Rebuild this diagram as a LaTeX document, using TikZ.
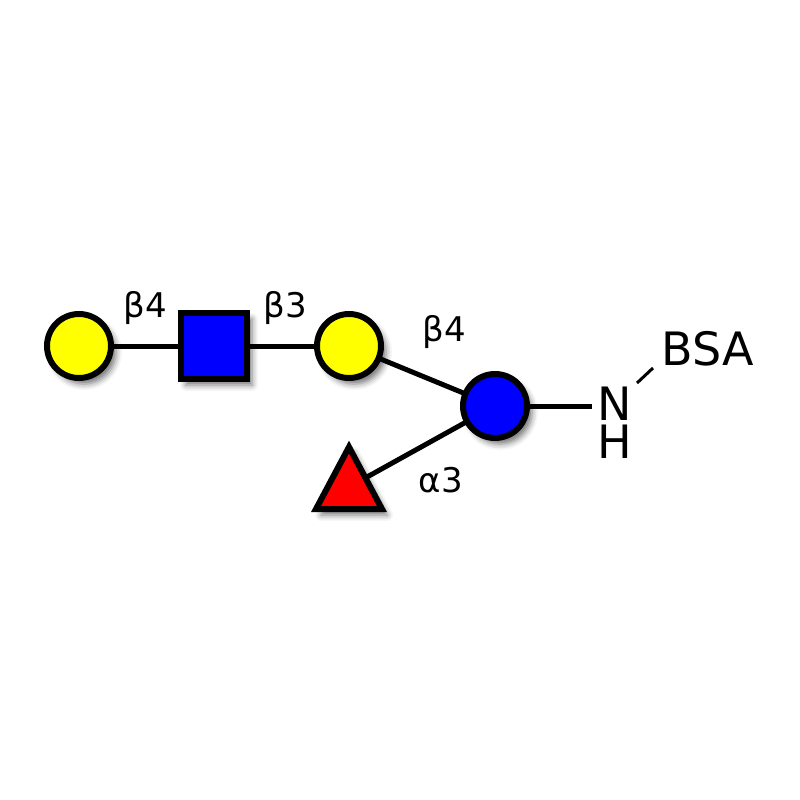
\documentclass[tikz,border=0pt]{standalone}
\usepackage{fontspec}
\setmainfont{DejaVu Sans}
\usetikzlibrary{shadows.blur}
\definecolor{galy}{RGB}{255,255,0}
\definecolor{glcb}{RGB}{0,0,255}
\definecolor{fucr}{RGB}{255,0,0}
\begin{document}
\begin{tikzpicture}[x=1pt,y=-1pt,
  shad/.style={blur shadow={shadow xshift=5pt,shadow yshift=-6pt,shadow blur radius=6pt,shadow opacity=55}},
  res/.style={draw=black,line width=6pt,shad,inner sep=0pt},
  gal/.style={res,circle,fill=galy,minimum size=64pt},
  glc/.style={res,circle,fill=glcb,minimum size=64pt},
  glcnac/.style={res,rectangle,fill=glcb,minimum size=66pt},
  bond/.style={line width=5pt,draw=black},
  lnk/.style={font=\fontsize{34}{38}\selectfont,anchor=base,inner sep=0pt},
  atom/.style={font=\fontsize{46}{50}\selectfont,inner sep=0pt}]
\useasboundingbox (0,0) rectangle (800,800);
% positions
\coordinate (fuc) at (349,487);
\node[atom,align=center,inner xsep=6pt,font=\fontsize{46}{38}\selectfont] (NH) at (615,423) {N\\H};
\node[atom] (BSA) at (708,349) {BSA};
\coordinate (b1) at (637,383);
\coordinate (b2) at (653,368);
% bonds
\draw[bond] (79,346) coordinate (g1c) -- (214,346) coordinate (sqc);
\draw[bond] (sqc) -- (349,346) coordinate (g2c);
\draw[bond] (g2c) -- (495,406) coordinate (glcc);
\draw[bond] (glcc) -- (fuc);
\draw[bond] (glcc) -- (glcc -| NH.west);
\draw[line width=3pt] (b1) -- (b2);
% residues
\node[gal] (gal1) at (g1c) {};
\node[glcnac] (nac) at (sqc) {};
\node[gal] (gal2) at (g2c) {};
\node[glc] (glc) at (glcc) {};
\path[draw=black,fill=fucr,line width=6pt,line join=miter,shad] (349,447) -- (382,509) -- (316,509) -- cycle;
% linkage labels
\node[lnk] (l1) at (145,317) {β4};
\node[lnk] (l2) at (285,317) {β3};
\node[lnk] (l3) at (444,341) {β4};
\node[lnk] (l4) at (441,492) {α3};
\end{tikzpicture}
\end{document}
